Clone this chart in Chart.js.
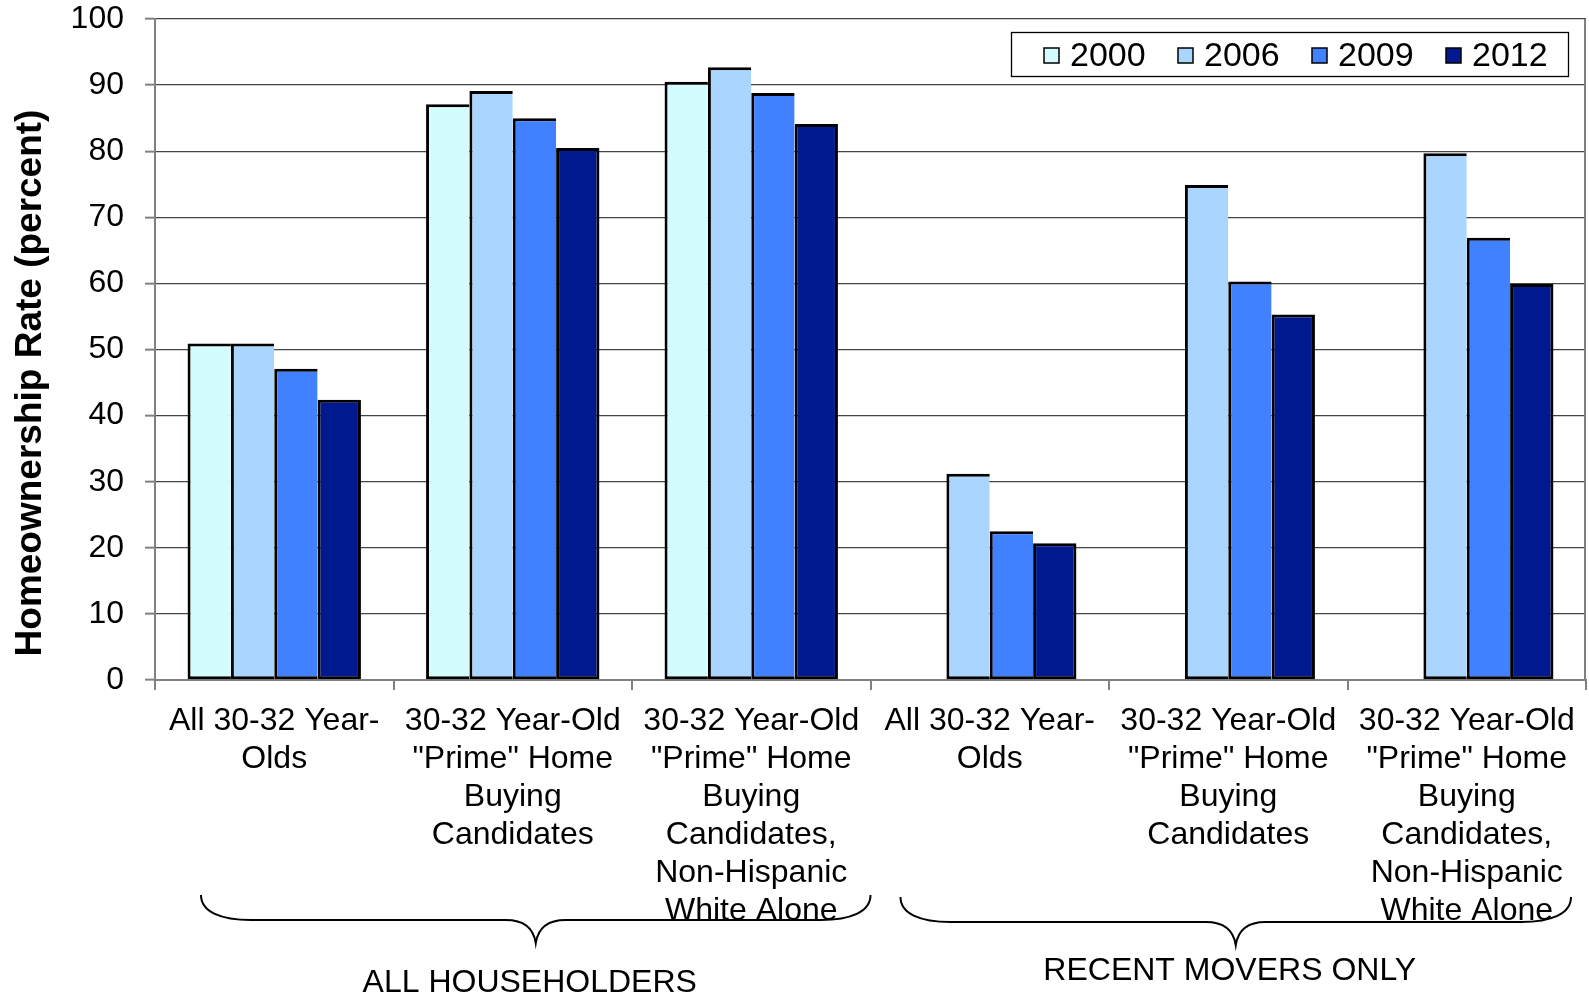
<!DOCTYPE html>
<html>
<head>
<meta charset="utf-8">
<script src="https://cdn.jsdelivr.net/npm/chart.js@4.4.0/dist/chart.umd.min.js"></script>
<style>
  html, body { margin: 0; padding: 0; background: #ffffff; }
  #wrap { width: 1589px; height: 996px; position: relative; }
</style>
</head>
<body>
<div id="wrap"><canvas id="c" width="1589" height="996"></canvas></div>
<script>
// Homeownership rate of 30-32 year-olds by survey year
const categories = [
  ["All 30-32 Year-", "Olds"],
  ["30-32 Year-Old", "\"Prime\" Home", "Buying", "Candidates"],
  ["30-32 Year-Old", "\"Prime\" Home", "Buying", "Candidates,", "Non-Hispanic", "White Alone"],
  ["All 30-32 Year-", "Olds"],
  ["30-32 Year-Old", "\"Prime\" Home", "Buying", "Candidates"],
  ["30-32 Year-Old", "\"Prime\" Home", "Buying", "Candidates,", "Non-Hispanic", "White Alone"]
];
const years = ["2000", "2006", "2009", "2012"];
const rate2000 = [50.9, 87.1, 90.5, null, null, null];
const rate2006 = [50.9, 89.1, 92.7, 31.2, 74.9, 79.7];
const rate2009 = [47.1, 85.0, 88.8, 22.5, 60.3, 66.9];
const rate2012 = [42.4, 80.5, 84.1, 20.7, 55.3, 59.9];
const yTickValues = [0, 10, 20, 30, 40, 50, 60, 70, 80, 90, 100];
const yTitle = "Homeownership Rate (percent)";
const groupNames = ["ALL HOUSEHOLDERS", "RECENT MOVERS ONLY"];
const groupSpans = [[0, 2], [3, 5]];

const barColors = ["#D4FCFF", "#A9D5FE", "#4181FF", "#00198F"];
const FONT = "'Liberation Sans', Arial, sans-serif";

const seriesValues = [rate2000, rate2006, rate2009, rate2012];
// Adjacent bars share one outline: every bar draws its left edge,
// only the last bar of a cluster also draws the right edge.
const datasets = years.map((y, i) => ({
  label: y,
  data: seriesValues[i],
  backgroundColor: barColors[i],
  borderColor: "#000000",
  borderWidth: { top: 3, bottom: 3, left: 3, right: i === years.length - 1 ? 3 : 0 },
  borderSkipped: false,
  inflateAmount: 0,
  categoryPercentage: 0.727,
  barPercentage: 1.0
}));

// Draws the boxed legend, the axis title, the right frame line,
// and the curly braces with their group captions.
const decorations = {
  id: "decorations",
  afterDraw(chart) {
    const ctx = chart.ctx;
    const area = chart.chartArea;
    const xs = chart.scales.x;
    const step = (area.right - area.left) / categories.length;
    ctx.save();

    // right frame line
    ctx.strokeStyle = "#808080";
    ctx.lineWidth = 2;
    ctx.beginPath();
    ctx.moveTo(area.right - 1, area.top);
    ctx.lineTo(area.right - 1, area.bottom);
    ctx.stroke();

    // y axis title
    ctx.save();
    ctx.translate(31, 383);
    ctx.rotate(-Math.PI / 2);
    ctx.fillStyle = "#000";
    ctx.font = "bold 37px " + FONT;
    ctx.textAlign = "center";
    ctx.textBaseline = "middle";
    ctx.fillText(yTitle, 0, 0);
    ctx.restore();

    // legend
    ctx.fillStyle = "#ffffff";
    ctx.fillRect(1011, 32, 558, 45);
    ctx.strokeStyle = "#000";
    ctx.lineWidth = 1.3;
    ctx.strokeRect(1011.5, 32.5, 557, 44);
    ctx.font = "34px " + FONT;
    ctx.textAlign = "left";
    ctx.textBaseline = "middle";
    chart.data.datasets.forEach((ds, i) => {
      const x0 = 1044 + i * 134;
      ctx.fillStyle = ds.backgroundColor;
      ctx.fillRect(x0, 48, 15, 15);
      ctx.lineWidth = 1.5;
      ctx.strokeStyle = "#000";
      ctx.strokeRect(x0, 48, 15, 15);
      ctx.fillStyle = "#000";
      ctx.fillText(ds.label, x0 + 26, 57);
    });

    // group braces
    const braces = groupSpans.map(([a, b], gi) => {
      const left = xs.getPixelForValue(a) - step / 2;
      const right = xs.getPixelForValue(b) + step / 2;
      return gi === 0
        ? { x0: left + 46, x1: right, top: 895, flat: 920, tip: 943 }
        : { x0: left + 30, x1: right - 15, top: 897, flat: 922, tip: 945 };
    });
    ctx.strokeStyle = "#000";
    ctx.lineWidth = 2;
    braces.forEach((br, gi) => {
      const mid = (br.x0 + br.x1) / 2;
      ctx.beginPath();
      ctx.moveTo(br.x0, br.top);
      ctx.bezierCurveTo(br.x0, br.top + 17, br.x0 + 20, br.flat, br.x0 + 50, br.flat);
      ctx.lineTo(mid - 30, br.flat);
      ctx.bezierCurveTo(mid - 10, br.flat, mid - 2, br.flat + 10, mid, br.tip);
      ctx.bezierCurveTo(mid + 2, br.flat + 10, mid + 10, br.flat, mid + 30, br.flat);
      ctx.lineTo(br.x1 - 50, br.flat);
      ctx.bezierCurveTo(br.x1 - 20, br.flat, br.x1, br.top + 17, br.x1, br.top);
      ctx.stroke();

      ctx.fillStyle = "#000";
      ctx.font = "32px " + FONT;
      ctx.textAlign = "center";
      ctx.textBaseline = "middle";
      ctx.fillText(groupNames[gi], mid - 6, gi === 0 ? 983 : 971);
    });

    ctx.restore();
  }
};

new Chart(document.getElementById("c"), {
  type: "bar",
  data: { labels: categories, datasets: datasets },
  options: {
    responsive: false,
    animation: false,
    devicePixelRatio: 1,
    layout: { padding: { left: 0, right: 3, top: 19, bottom: 0 } },
    plugins: {
      legend: { display: false },
      tooltip: { enabled: false }
    },
    scales: {
      x: {
        offset: true,
        grid: {
          offset: true,
          drawOnChartArea: false,
          drawTicks: true,
          tickLength: 10,
          color: "#808080",
          lineWidth: 2
        },
        border: { color: "#808080", width: 2 },
        ticks: {
          color: "#000",
          font: { family: FONT, size: 32, lineHeight: 1.19 },
          padding: 12,
          maxRotation: 0,
          minRotation: 0,
          autoSkip: false
        },
        afterFit(s) { s.height = 316; }
      },
      y: {
        min: 0,
        max: 100,
        afterBuildTicks(s) { s.ticks = yTickValues.map(v => ({ value: v })); },
        ticks: {
          color: "#000",
          font: { family: FONT, size: 32 },
          padding: 21
        },
        grid: {
          color: "#444444",
          lineWidth: 1.3,
          tickLength: 10,
          tickColor: "#808080",
          tickWidth: 2
        },
        border: { color: "#808080", width: 2 },
        afterFit(s) {
          s.width = 155;
          s.paddingTop = 0;
          s.paddingBottom = 0;
        }
      }
    }
  },
  plugins: [decorations]
});
</script>
</body>
</html>
